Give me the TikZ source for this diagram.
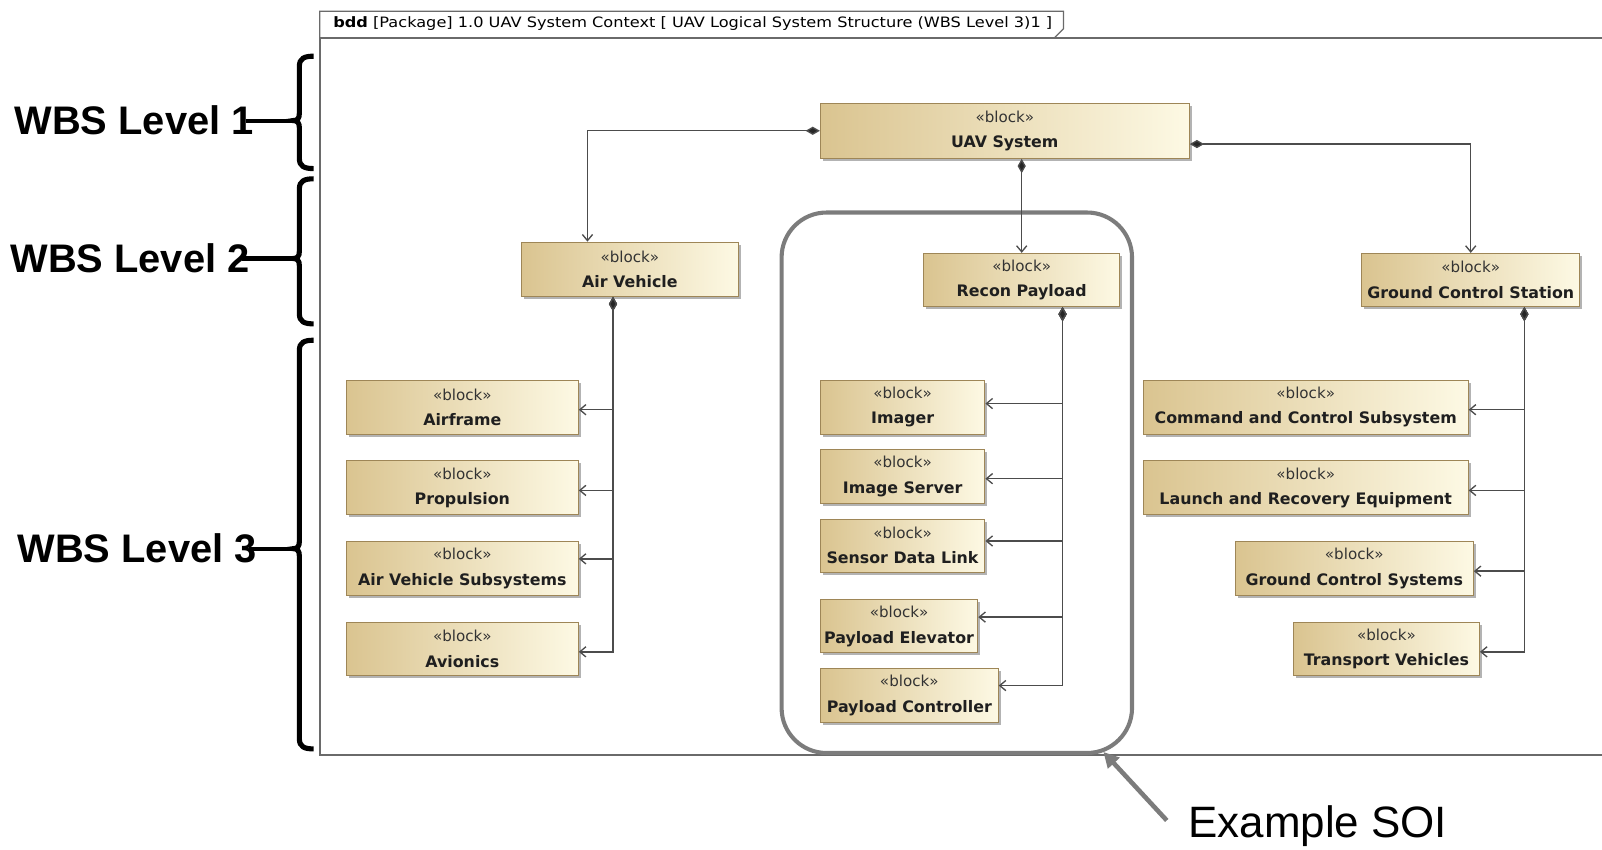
\documentclass[tikz,border=0pt]{standalone}
\usepackage{fontspec}
\setmainfont{DejaVu Sans}
\newfontfamily\lblfont{Liberation Sans}
\usetikzlibrary{arrows.meta,shadows,calc}

\definecolor{blkL}{HTML}{DAC490}
\definecolor{blkR}{HTML}{FDF9E4}
\definecolor{blkEdge}{HTML}{9E8657}
\definecolor{wire}{HTML}{4C4C4C}
\definecolor{frameC}{HTML}{6A6A6A}
\definecolor{soiC}{HTML}{7C7C7C}

% stereotype line above a block name
\newcommand\stereo[1]{{\fontsize{14.8}{25}\selectfont\color{black!80}«block»}\\\textbf{#1}}

% square-ish curly bracket grouping one WBS level: top, middle, bottom
\newcommand\wbsbrace[3]{%
  \draw[wbsline] (307,#1) .. controls (298,#1) and (293,{#1+2}) .. (293,{#1+10})
    -- (293,{#2-7}) .. controls (293,{#2-2}) and (291,#2) .. (287,#2)
    .. controls (291,#2) and (293,{#2+2}) .. (293,{#2+7})
    -- (293,{#3-10}) .. controls (293,{#3-2}) and (298,#3) .. (307,#3);}

\begin{document}
\begin{tikzpicture}[x=1pt,y=-1pt,
  blk/.style={draw=blkEdge, line width=1pt, left color=blkL, right color=blkR,
    inner sep=0pt, minimum height=53pt, align=center, text=black!88,
    font=\fontsize{15.5}{25}\selectfont,
    drop shadow={shadow xshift=2.5pt, shadow yshift=-2.5pt, fill=black!50, opacity=0.6}},
  comp/.style={draw=wire, line width=1.3pt,
    {Diamond[length=14pt,width=8pt,fill=black!85]}-{Straight Barb[length=6pt,width=10pt]}},
  framec/.style={draw=frameC, line width=1.5pt},
  wbsline/.style={draw=black, line width=5pt, line cap=butt},
  wbs/.style={inner sep=0pt, font=\lblfont\bfseries\fontsize{39}{39}\selectfont},
  soiarrow/.style={draw=soiC, line width=4.5pt, -{Triangle[length=15pt,width=15pt]}}
]
\useasboundingbox (0,0) rectangle (1568,831);
\clip (0,0) rectangle (1568,831);

% diagram frame with its name tab
\draw[framec] (1600,37) -- (313,37) -- (313,739) -- (1600,739);
\draw[framec, line width=1.2pt] (313,37) -- (313,11) -- (1041,11) -- (1041,28) -- (1032,37);
\node[anchor=base west, inner sep=0pt, font=\fontsize{14}{15}\selectfont] (hdr) at (326,27)
  {\scalebox{1.13}[1]{\textbf{bdd} [Package] 1.0 UAV System Context [ UAV Logical System Structure (WBS Level 3)1 ]}};

% system of interest outline
\node[draw=soiC, line width=4pt, rounded corners=44pt, outer sep=0pt, inner sep=0pt,
  minimum width=343pt, minimum height=529pt] (soibox) at (936.5,472.5) {};

% level 1
\node[blk, minimum width=361pt, minimum height=54pt] (uav) at (983.5,128) {\stereo{UAV System}};
% level 2
\node[blk, minimum width=213pt] (av) at (616.5,263.5) {\stereo{Air Vehicle}};
\node[blk, minimum width=192pt, minimum height=52pt] (recon) at (1000,274) {\stereo{Recon Payload}};
\node[blk, minimum width=213pt, minimum height=52pt] (gcs) at (1439.5,274) {\stereo{Ground Control Station}};
% level 3, air vehicle
\node[blk, minimum width=227pt] (airframe) at (452.5,398.5) {\stereo{Airframe}};
\node[blk, minimum width=227pt] (prop) at (452.5,477.5) {\stereo{Propulsion}};
\node[blk, minimum width=227pt] (avs) at (452.5,556.5) {\stereo{Air Vehicle Subsystems}};
\node[blk, minimum width=227pt, minimum height=52pt] (avion) at (452.5,635) {\stereo{Avionics}};
% level 3, recon payload
\node[blk, minimum width=161pt] (imager) at (883.5,398.5) {\stereo{Imager}};
\node[blk, minimum width=161pt] (imgsrv) at (883.5,466.5) {\stereo{Image Server}};
\node[blk, minimum width=161pt, minimum height=52pt] (sdl) at (883.5,534) {\stereo{Sensor Data Link}};
\node[blk, minimum width=154pt, minimum height=52pt] (pelev) at (880,613) {\stereo{Payload Elevator}};
\node[blk, minimum width=174pt] (pctrl) at (890,680.5) {\stereo{Payload Controller}};
% level 3, ground control station
\node[blk, minimum width=318pt] (cmd) at (1278,398.5) {\stereo{Command and Control Subsystem}};
\node[blk, minimum width=318pt] (lre) at (1278,477.5) {\stereo{Launch and Recovery Equipment}};
\node[blk, minimum width=233pt] (gcsys) at (1325.5,556.5) {\stereo{Ground Control Systems}};
\node[blk, minimum width=182pt, minimum height=52pt] (tv) at (1357,635) {\stereo{Transport Vehicles}};

% composition: UAV System
\draw[comp] (uav.west) -| ([xshift=-41.5pt]av.north);
\draw[comp] (uav.south -| recon.north) -- (recon.north);
\draw[comp] ([yshift=-13pt]uav.east) -| (gcs.north);

% composition: Air Vehicle
\coordinate (avt) at ([xshift=-16.5pt]av.south);
\draw[comp] (avt) |- ([yshift=-2.5pt]airframe.east);
\draw[comp] (avt) |- ([yshift=-2.5pt]prop.east);
\draw[comp] (avt) |- ([yshift=9.5pt]avs.east);
\draw[comp] (avt) |- ([yshift=-3pt]avion.east);

% composition: Recon Payload
\coordinate (rpt) at ([xshift=40pt]recon.south);
\draw[comp] (rpt) |- ([yshift=3.5pt]imager.east);
\draw[comp] (rpt) |- ([yshift=-2pt]imgsrv.east);
\draw[comp] (rpt) |- ([yshift=4.5pt]sdl.east);
\draw[comp] (rpt) |- ([yshift=9pt]pelev.east);
\draw[comp] (rpt) |- ([yshift=9.5pt]pctrl.east);

% composition: Ground Control Station
\coordinate (gct) at ([xshift=52.5pt]gcs.south);
\draw[comp] (gct) |- ([yshift=-2.5pt]cmd.east);
\draw[comp] (gct) |- ([yshift=-2.5pt]lre.east);
\draw[comp] (gct) |- ([yshift=-2.5pt]gcsys.east);
\draw[comp] (gct) |- ([yshift=-3pt]tv.east);

% WBS level labels and brackets
\node[wbs, anchor=west] (w1) at (14,118) {WBS Level 1};
\node[wbs, anchor=west] (w2) at (10,253) {WBS Level 2};
\node[wbs, anchor=west] (w3) at (17,537) {WBS Level 3};
\wbsbrace{55}{118}{165}
\wbsbrace{175}{253}{317}
\wbsbrace{333}{537}{733}
\coordinate (b1) at (289,118);
\coordinate (b2) at (289,253);
\coordinate (b3) at (289,537);
\draw[wbsline, line width=4pt] ([xshift=-8pt]w1.east) -- (b1);
\draw[wbsline, line width=4pt] ([xshift=-8pt]w2.east) -- (b2);
\draw[wbsline, line width=4pt] ([xshift=-8pt]w3.east) -- (b3);

% callout
\node[anchor=base west, inner sep=0pt, font=\lblfont\fontsize{43}{43}\selectfont] (soi) at (1163,820) {Example SOI};
\coordinate (soitail) at (1142,803);
\draw[soiarrow] (soitail) -- ([xshift=-28pt,yshift=1pt]soibox.south east);
\end{tikzpicture}
\end{document}
